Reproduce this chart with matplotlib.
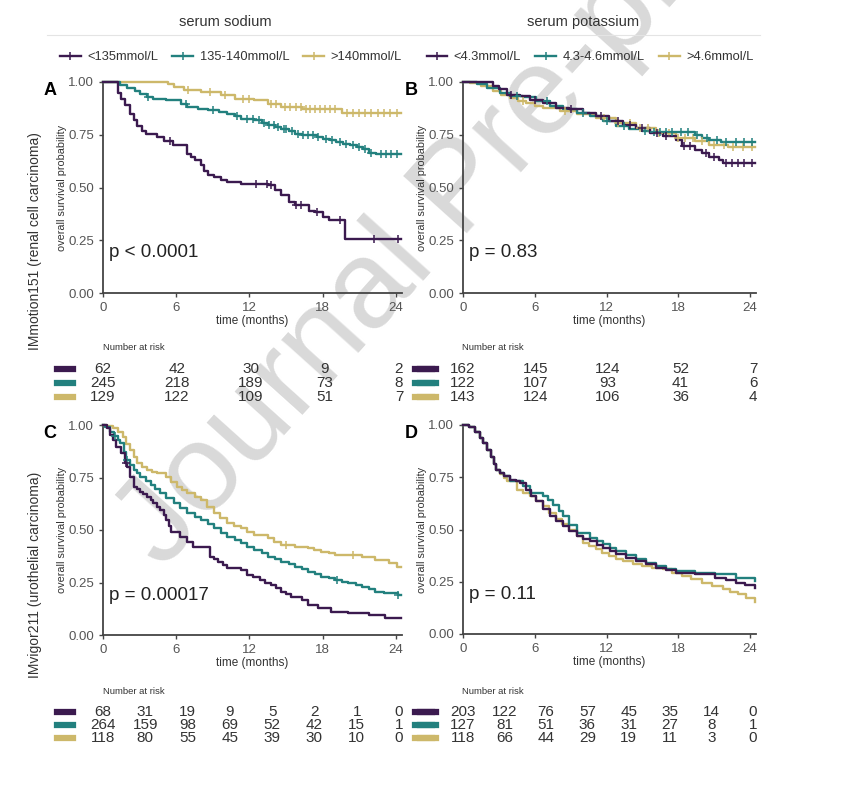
import numpy as np
import matplotlib
matplotlib.use("Agg")
import matplotlib.pyplot as plt
import matplotlib.transforms as mtransforms
from matplotlib.lines import Line2D

plt.rcParams['font.family'] = ['Liberation Sans', 'DejaVu Sans']

# colores de los grupos
purple = '#3B1A4F'
teal = '#22807E'
gold = '#CDB86A'
colors = [purple, teal, gold]

sodium_labels = ['<135mmol/L', '135-140mmol/L', '>140mmol/L']
potassium_labels = ['<4.3mmol/L', '4.3-4.6mmol/L', '>4.6mmol/L']

# ---- panel A (IMmotion151, sodio) ----
a_purple_t = [1.2, 1.5, 1.8, 2.2, 2.5, 2.8, 3.2, 3.5, 4.4, 5.0, 5.7, 6.9, 7.2, 7.5, 8.0, 8.3, 8.6, 9.1, 9.7,
              10.2, 11.3, 13.5, 14.1, 14.6, 15.2, 15.7, 16.9, 17.4, 18.0, 18.5, 19.8]
a_purple_s = [0.95, 0.92, 0.89, 0.85, 0.82, 0.79, 0.77, 0.755, 0.74, 0.72, 0.70, 0.66, 0.645, 0.63, 0.605, 0.58,
              0.56, 0.55, 0.535, 0.526, 0.518, 0.51, 0.487, 0.463, 0.431, 0.415, 0.39, 0.384, 0.36, 0.344, 0.258]
a_purple_c = [5.5, 12.5, 13.4, 13.8, 15.8, 16.2, 17.5, 19.4, 22.2, 24.2]
a_teal_t = [1.4, 2.0, 2.6, 3.0, 3.6, 4.1, 5.2, 6.4, 6.9, 7.8, 8.6, 9.5, 10.2, 10.8, 11.3, 12.4, 13.0, 13.5, 14.1,
            14.6, 15.2, 15.7, 16.3, 16.9, 17.5, 18.0, 18.6, 19.1, 19.7, 20.2, 20.8, 21.3, 21.8, 22.4]
a_teal_s = [0.985, 0.97, 0.955, 0.945, 0.93, 0.92, 0.913, 0.897, 0.88, 0.872, 0.866, 0.858, 0.85, 0.838, 0.826,
            0.818, 0.806, 0.795, 0.787, 0.779, 0.767, 0.755, 0.751, 0.747, 0.739, 0.731, 0.723, 0.716, 0.708, 0.70,
            0.692, 0.684, 0.665, 0.657]
a_teal_c = [3.7, 6.8, 9.0, 11.0, 11.8, 12.3, 12.8, 13.2, 13.6, 14.0, 14.3, 14.8, 15.0, 15.5, 16.0, 16.4, 16.8,
            17.2, 17.6, 18.3, 18.8, 19.4, 19.9, 20.5, 21.0, 21.5, 22.0, 22.8, 23.2, 23.6, 24.1]
a_gold_t = [5.3, 5.8, 6.6, 8.0, 9.7, 10.8, 12.4, 13.5, 14.6, 16.3, 19.6]
a_gold_s = [0.99, 0.976, 0.96, 0.953, 0.937, 0.92, 0.913, 0.897, 0.88, 0.874, 0.853]
a_gold_c = [7.0, 8.8, 10.0, 11.5, 12.0, 13.8, 14.2, 14.9, 15.3, 15.8, 16.2, 16.6, 17.0, 17.4, 17.8, 18.2, 18.6,
            19.0, 20.0, 20.5, 21.0, 21.5, 22.0, 22.5, 23.0, 23.5, 24.1]

# ---- panel B (IMmotion151, potasio) ----
b_purple_t = [2.5, 3.0, 3.7, 4.8, 5.6, 6.7, 7.8, 8.9, 10.0, 11.1, 12.2, 13.4, 14.5, 15.6, 16.7, 17.8, 18.3, 19.4,
              20.0, 20.6, 21.4, 21.7]
b_purple_s = [0.98, 0.965, 0.94, 0.933, 0.917, 0.90, 0.878, 0.87, 0.854, 0.838, 0.814, 0.798, 0.783, 0.76, 0.743,
              0.727, 0.695, 0.68, 0.663, 0.644, 0.632, 0.616]
b_purple_c = [4, 6, 9, 11.5, 13, 14, 15, 16.2, 17, 18.5, 19, 20.3, 21, 22, 22.5, 23, 23.5, 24.2]
b_teal_t = [1.2, 2.0, 3.1, 3.9, 5.0, 6.1, 7.3, 8.4, 9.5, 10.6, 11.7, 12.8, 13.9, 15.0, 15.6, 19.4, 20.0, 20.6, 21.6]
b_teal_s = [0.99, 0.973, 0.95, 0.933, 0.93, 0.91, 0.886, 0.87, 0.854, 0.838, 0.814, 0.79, 0.775, 0.767, 0.762,
            0.75, 0.735, 0.727, 0.715]
b_teal_c = [4.5, 7, 10, 12, 13.5, 15.2, 16, 16.5, 17, 17.5, 18.2, 18.8, 19.6, 20.4, 21.2, 22, 22.8, 23.5, 24.2]
b_gold_t = [0.6, 1.5, 2.5, 3.2, 3.9, 4.6, 5.3, 6.0, 6.7, 8.1, 9.5, 11.1, 12.8, 14.5, 16.1, 17.8, 19.4, 20.6, 22.2]
b_gold_s = [0.995, 0.98, 0.957, 0.94, 0.925, 0.912, 0.90, 0.888, 0.878, 0.862, 0.846, 0.83, 0.806, 0.783, 0.759,
            0.735, 0.72, 0.703, 0.692]
b_gold_c = [5, 8.5, 11.8, 13, 14, 14.8, 15.5, 16.4, 17.2, 18, 18.6, 19.2, 20, 21, 21.8, 22.6, 23.4, 24.2]

# ---- panel C (IMvigor211, sodio) ----
c_purple_t = [0.3, 0.55, 0.8, 1.1, 1.5, 1.8, 2.0, 2.2, 2.5, 2.8, 3.0, 3.3, 3.6, 3.9, 4.1, 4.4, 4.7, 5.0, 5.2, 5.4,
              5.6, 6.3, 6.9, 7.4, 8.8, 9.1, 9.4, 9.8, 10.2, 11.3, 11.8, 12.3, 12.9, 13.3, 13.8, 14.2, 14.6, 15.0,
              15.4, 16.3, 16.8, 17.6, 18.7, 20.1, 21.8, 23.1]
c_purple_s = [0.985, 0.952, 0.93, 0.897, 0.865, 0.817, 0.80, 0.754, 0.706, 0.695, 0.683, 0.671, 0.659, 0.643,
              0.627, 0.611, 0.595, 0.572, 0.548, 0.52, 0.492, 0.468, 0.444, 0.42, 0.373, 0.361, 0.349, 0.333, 0.317,
              0.31, 0.286, 0.274, 0.262, 0.25, 0.238, 0.222, 0.206, 0.195, 0.183, 0.167, 0.143, 0.127, 0.111,
              0.103, 0.095, 0.079]
c_purple_c = [1.9]
c_teal_t = [0.2, 0.55, 0.9, 1.2, 1.4, 1.7, 1.9, 2.2, 2.5, 2.8, 3.0, 3.5, 3.9, 4.3, 4.7, 5.2, 5.8, 6.3, 6.9, 7.5,
            8.0, 8.6, 9.1, 9.7, 10.2, 10.8, 11.3, 11.8, 12.4, 13.0, 13.5, 14.1, 14.6, 15.2, 15.7, 16.3, 16.8,
            17.4, 17.9, 18.5, 19.0, 19.6, 20.1, 20.7, 21.2, 21.8, 22.3, 23.0, 23.6, 24.2]
c_teal_s = [0.99, 0.968, 0.95, 0.93, 0.913, 0.873, 0.833, 0.81, 0.786, 0.77, 0.754, 0.734, 0.714, 0.695, 0.675,
            0.651, 0.627, 0.603, 0.579, 0.563, 0.548, 0.528, 0.508, 0.488, 0.468, 0.452, 0.437, 0.421, 0.405,
            0.389, 0.373, 0.361, 0.349, 0.337, 0.325, 0.313, 0.302, 0.29, 0.278, 0.27, 0.262, 0.254, 0.246,
            0.238, 0.23, 0.218, 0.206, 0.202, 0.198, 0.19]
c_teal_c = [1.0, 2.0, 19.2, 24.2]
c_gold_t = [0.3, 0.8, 1.2, 1.65, 1.9, 2.2, 2.5, 2.75, 3.2, 3.6, 4.0, 4.4, 5.2, 5.6, 6.1, 6.5, 6.9, 7.5, 8.0, 8.5,
            9.1, 9.6, 10.2, 10.7, 11.3, 11.8, 12.4, 13.5, 14.0, 14.6, 15.7, 16.8, 17.3, 17.9, 18.5, 19.0, 21.2,
            22.3, 23.4, 24.1]
c_gold_s = [0.995, 0.984, 0.965, 0.944, 0.91, 0.881, 0.85, 0.817, 0.80, 0.786, 0.778, 0.77, 0.754, 0.73, 0.706,
            0.69, 0.675, 0.659, 0.643, 0.611, 0.579, 0.555, 0.532, 0.52, 0.508, 0.492, 0.476, 0.46, 0.444, 0.429,
            0.42, 0.413, 0.405, 0.397, 0.389, 0.381, 0.373, 0.357, 0.341, 0.325]
c_gold_c = [15.0, 20.5]

# ---- panel D (IMvigor211, potasio) ----
d_purple_t = [0.5, 1.0, 1.4, 1.7, 2.0, 2.3, 2.6, 2.8, 3.1, 3.4, 3.9, 4.4, 4.8, 5.3, 5.7, 6.1, 6.7, 7.3, 7.8, 8.4,
              8.9, 9.5, 10.0, 10.6, 11.2, 11.7, 12.3, 12.8, 13.6, 14.5, 15.3, 16.1, 17.0, 17.8, 19.4, 21.1, 22.0,
              22.8, 23.6, 24.4]
d_purple_s = [0.99, 0.968, 0.94, 0.913, 0.88, 0.849, 0.815, 0.786, 0.77, 0.754, 0.738, 0.73, 0.722, 0.69, 0.66,
              0.635, 0.6, 0.563, 0.54, 0.516, 0.492, 0.468, 0.456, 0.444, 0.428, 0.413, 0.397, 0.381, 0.365, 0.349,
              0.333, 0.317, 0.305, 0.294, 0.286, 0.27, 0.258, 0.246, 0.234, 0.222]
d_purple_c = []
d_teal_t = [0.5, 1.0, 1.4, 1.7, 2.0, 2.3, 2.6, 2.8, 3.1, 3.4, 3.9, 5.0, 5.6, 6.7, 7.1, 7.5, 8.0, 8.4, 8.9, 9.5,
            10.6, 11.2, 11.7, 12.3, 12.8, 13.6, 14.5, 15.3, 16.1, 17.0, 17.8, 19.4, 21.1, 22.8, 24.4]
d_teal_s = [0.99, 0.968, 0.94, 0.913, 0.88, 0.849, 0.815, 0.786, 0.77, 0.754, 0.73, 0.706, 0.675, 0.659, 0.64,
            0.619, 0.59, 0.563, 0.52, 0.484, 0.46, 0.445, 0.429, 0.413, 0.397, 0.377, 0.357, 0.341, 0.325, 0.313,
            0.302, 0.294, 0.286, 0.27, 0.254]
d_teal_c = []
d_gold_t = [0.5, 1.0, 1.4, 1.7, 2.0, 2.3, 2.6, 2.8, 3.1, 3.4, 3.7, 4.5, 5.0, 5.6, 6.1, 6.7, 7.2, 7.8, 8.3, 8.9, 9.5,
            10.0, 10.5, 11.1, 11.6, 12.2, 12.8, 13.4, 14.2, 15.0, 15.8, 16.7, 17.5, 18.3, 19.1, 20.0, 20.8, 21.7,
            22.3, 23.0, 23.7, 24.4]
d_gold_s = [0.99, 0.968, 0.94, 0.913, 0.88, 0.849, 0.815, 0.786, 0.765, 0.745, 0.73, 0.69, 0.675, 0.659, 0.635,
            0.611, 0.58, 0.548, 0.524, 0.50, 0.468, 0.437, 0.421, 0.405, 0.389, 0.373, 0.361, 0.349, 0.337, 0.325,
            0.317, 0.31, 0.294, 0.278, 0.262, 0.246, 0.23, 0.214, 0.202, 0.19, 0.17, 0.151]
d_gold_c = []

# numero en riesgo
risk_a = [[62, 42, 30, 9, 2], [245, 218, 189, 73, 8], [129, 122, 109, 51, 7]]
risk_b = [[162, 145, 124, 52, 7], [122, 107, 93, 41, 6], [143, 124, 106, 36, 4]]
risk_c = [[68, 31, 19, 9, 5, 2, 1, 0], [264, 159, 98, 69, 52, 42, 15, 1], [118, 80, 55, 45, 39, 30, 10, 0]]
risk_d = [[203, 122, 76, 57, 45, 35, 14, 0], [127, 81, 51, 36, 31, 27, 8, 1], [118, 66, 44, 29, 19, 11, 3, 0]]

pvals = ['p < 0.0001', 'p = 0.83', 'p = 0.00017', 'p = 0.11']

W, H = 847, 790
fig = plt.figure(figsize=(W / 100, H / 100), dpi=100)


def rect(left, top, right, bottom):
    return [left / W, 1 - bottom / H, (right - left) / W, (bottom - top) / H]


def km(ax, t, s, cens, color):
    x = [0] + list(t) + [24.4]
    y = [1] + list(s) + [s[-1]]
    ax.plot(x, y, drawstyle='steps-post', color=color, lw=1.7, clip_on=False, zorder=3)
    if len(cens):
        t_arr = np.array([0] + list(t))
        s_arr = np.array([1] + list(s))
        idx = np.searchsorted(t_arr, cens, side='right') - 1
        ax.plot(cens, s_arr[idx], '+', color=color, ms=6, mew=1.1, clip_on=False, zorder=4)


def style(ax, letter, ptext):
    ax.set_xlim(0, 24.5)
    ax.set_ylim(0, 1)
    ax.set_facecolor('none')
    for sp in ['top', 'right']:
        ax.spines[sp].set_visible(False)
    for sp in ['left', 'bottom']:
        ax.spines[sp].set_color('#444444')
        ax.spines[sp].set_linewidth(1.3)
    ax.set_xticks([0, 6, 12, 18, 24])
    ax.set_yticks([0, 0.25, 0.5, 0.75, 1.0])
    ax.set_yticklabels(['0.00', '0.25', '0.50', '0.75', '1.00'])
    ax.tick_params(labelsize=9.5, labelcolor='#555555', color='#444444', length=3, width=1)
    ax.set_xlabel('time (months)', fontsize=8.5, color='#333333', labelpad=1)
    ax.set_ylabel('overall survival probability', fontsize=7.8, color='#333333', labelpad=1)
    ax.text(0.5, 0.19, ptext, fontsize=13.5, color='#222222', va='center', ha='left')
    ax.text(-0.2, 1.0, letter, transform=ax.transAxes, fontsize=13, fontweight='bold', va='top', ha='left')


def risk(ax, rows, y_title, y_rows, bar_left, bar_right=None):
    tr = mtransforms.blended_transform_factory(ax.transData, fig.transFigure)
    n = len(rows[0])
    xs = np.linspace(0, 24.25, n)
    ax.text(2.5, 1 - y_title / H, 'Number at risk', transform=tr, fontsize=6.8, color='#333333',
            ha='center', va='center')
    for row, yy, col in zip(rows, y_rows, colors):
        for x, v in zip(xs, row):
            ax.text(x, 1 - yy / H, str(v), transform=tr, fontsize=11, color='#333333',
                    ha='center', va='center')
        fig.add_artist(Line2D([bar_left / W, (bar_left + 16) / W], [1 - yy / H] * 2, color=col, lw=4.5))
        if bar_right is not None:
            fig.add_artist(Line2D([bar_right / W, (bar_right + 17) / W], [1 - yy / H] * 2, color=col, lw=4.5))


# marca de agua
fig.text(462 / W, 1 - 190 / H, 'Journal Pre-proof', fontsize=90, color='#d9d9d9', rotation=48,
         ha='center', va='center', zorder=-1)

axA = fig.add_axes(rect(103, 82, 402, 293))
axB = fig.add_axes(rect(463, 82, 756, 293))
axC = fig.add_axes(rect(103, 425, 402, 635))
axD = fig.add_axes(rect(463, 425, 756, 634))

km(axA, a_gold_t, a_gold_s, a_gold_c, gold)
km(axA, a_teal_t, a_teal_s, a_teal_c, teal)
km(axA, a_purple_t, a_purple_s, a_purple_c, purple)

km(axB, b_gold_t, b_gold_s, b_gold_c, gold)
km(axB, b_teal_t, b_teal_s, b_teal_c, teal)
km(axB, b_purple_t, b_purple_s, b_purple_c, purple)

km(axC, c_gold_t, c_gold_s, c_gold_c, gold)
km(axC, c_teal_t, c_teal_s, c_teal_c, teal)
km(axC, c_purple_t, c_purple_s, c_purple_c, purple)

km(axD, d_gold_t, d_gold_s, d_gold_c, gold)
km(axD, d_teal_t, d_teal_s, d_teal_c, teal)
km(axD, d_purple_t, d_purple_s, d_purple_c, purple)

for ax, letter, p in zip([axA, axB, axC, axD], 'ABCD', pvals):
    style(ax, letter, p)

risk(axA, risk_a, 348, [369, 383, 397], 57, 415)
risk(axB, risk_b, 348, [369, 383, 397], 420)
risk(axC, risk_c, 692, [712, 725, 738], 57, 415)
risk(axD, risk_d, 692, [712, 725, 738], 420)

# titulos de columna
fig.text(225 / W, 1 - 22 / H, 'serum sodium', fontsize=10.5, color='#333333', ha='center', va='center')
fig.text(583 / W, 1 - 22 / H, 'serum potassium', fontsize=10.5, color='#333333', ha='center', va='center')
fig.add_artist(Line2D([47 / W, 760 / W], [1 - 35 / H] * 2, color='#e4e4e4', lw=0.8))

# filas
fig.text(35 / W, 1 - 241 / H, 'IMmotion151 (renal cell carcinoma)', fontsize=10, color='#333333',
         rotation=90, ha='center', va='center')
fig.text(35 / W, 1 - 575 / H, 'IMvigor211 (urothelial carcinoma)', fontsize=10, color='#333333',
         rotation=90, ha='center', va='center')

# leyendas
for labels, cx in [(sodium_labels, 231), (potassium_labels, 590)]:
    handles = [Line2D([], [], color=c, lw=1.7, marker='+', ms=6, mew=1.1) for c in colors]
    fig.legend(handles, labels, loc='center', bbox_to_anchor=(cx / W, 1 - 57 / H), ncol=3, frameon=False,
               fontsize=9.3, handlelength=1.6, handletextpad=0.5, columnspacing=1.1, labelcolor='#333333')

fig.savefig('out.png', dpi=100)
